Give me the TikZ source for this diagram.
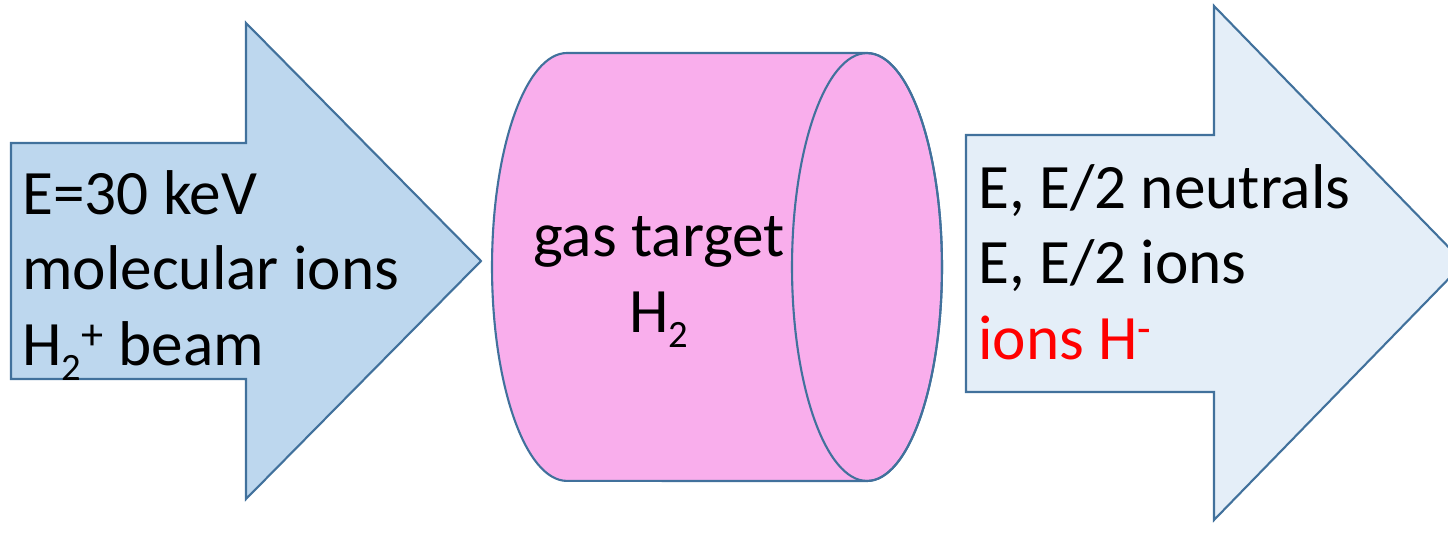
\documentclass[tikz,border=0pt]{standalone}
\usepackage{fontspec}
\setmainfont{Carlito}
\definecolor{gtBeam}{HTML}{BDD7EE}
\definecolor{gtOut}{HTML}{E4EEF8}
\definecolor{gtGas}{HTML}{F9AEEC}
\definecolor{gtEdge}{HTML}{41719C}
\definecolor{gtRed}{HTML}{FF0000}
\newcommand{\gtsub}[2][0.24em]{\raisebox{-#1}{\fontsize{22}{22}\selectfont #2}}
\tikzset{
  gt shape/.style={draw=gtEdge, line width=1.2pt, line join=miter},
  gt label/.style={font=\fontsize{36}{42.7}\selectfont, inner sep=0pt, text=black},
}

\begin{document}
\begin{tikzpicture}[x=0.02cm, y=-0.02cm]
  \useasboundingbox (0,0) rectangle (1448,534);
  \clip (0,0) rectangle (1448,534);

  % Incoming beam arrow
  \draw[gt shape, fill=gtBeam]
    (11,143) -- (246,143) -- (246,23) -- (481,261) -- (246,499) -- (246,379) -- (11,379) -- cycle;

  % Gas target cylinder
  \draw[gt shape, fill=gtGas]
    (867,53) -- (567,53) arc[start angle=90, end angle=270, x radius=1.5cm, y radius=4.28cm]
    -- (867,481) arc[start angle=-90, end angle=90, x radius=1.5cm, y radius=4.28cm] -- cycle;
  \draw[gt shape] (867,267) ellipse[x radius=1.5cm, y radius=4.28cm];

  % Outgoing products arrow
  \draw[gt shape, fill=gtOut]
    (966,135) -- (1214,135) -- (1214,6) -- (1464,263) -- (1214,520) -- (1214,392) -- (966,392) -- cycle;

  % Labels (anchored on the last line)
  \node[gt label, align=left, anchor=base west] (beam) at (22,365)
    {E=30 keV\\molecular ions\\H\gtsub{2}\textsuperscript{+} beam};
  \node[gt label, align=center, anchor=base] (target) at (659,332)
    {gas target\\H\gtsub{2}};
  \node[gt label, align=left, anchor=base west] (products) at (978,359)
    {E, E/2 neutrals\\E, E/2 ions\\\textcolor{gtRed}{ions H\textsuperscript{-}}};
\end{tikzpicture}
\end{document}
